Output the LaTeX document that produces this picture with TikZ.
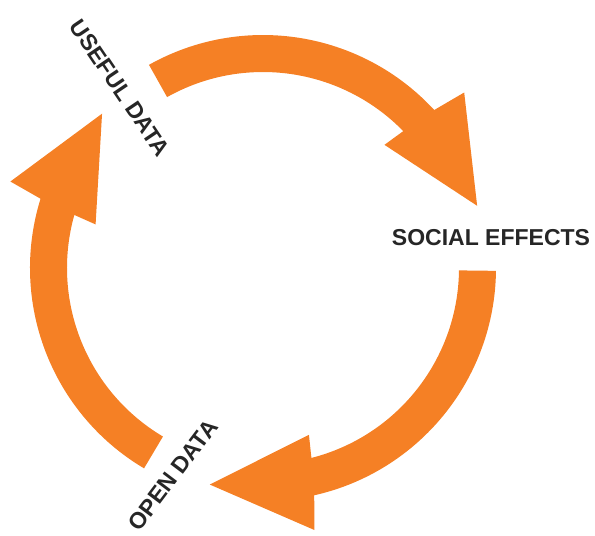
\documentclass[tikz,border=0pt]{standalone}
\usepackage{fontspec}
\setmainfont{Liberation Sans}
\definecolor{cycleorange}{RGB}{245,128,37}

\begin{document}
\begin{tikzpicture}[x=0.02cm,y=0.02cm,
  steplabel/.style={font=\fontsize{13.1}{15}\selectfont\bfseries, text=black!85, inner sep=0pt},
  cyclearrow/.style={fill=cycleorange}]
\useasboundingbox (0,0) rectangle (595,-535);
% ring of three arrows
\begin{scope}[shift={(263,-268)}]
\foreach \a in {119.3,-0.7,239.3}
  \fill[cyclearrow] (\a:196) -- (\a:233)
    arc[start angle=\a, end angle=\a-76.6, radius=233]
    -- (\a-78.2:267) -- (\a-103.1:223) -- (\a-73.9:173) -- (\a-75:196)
    arc[start angle=\a-75, end angle=\a, radius=196] -- cycle;
\end{scope}
% labels
\node[steplabel, rotate=-56] (useful) at (120,-88) {USEFUL DATA};
\node[steplabel] (social) at (491,-237.5) {SOCIAL EFFECTS};
\node[steplabel, rotate=53] (open) at (173,-475) {OPEN DATA};
\end{tikzpicture}
\end{document}
